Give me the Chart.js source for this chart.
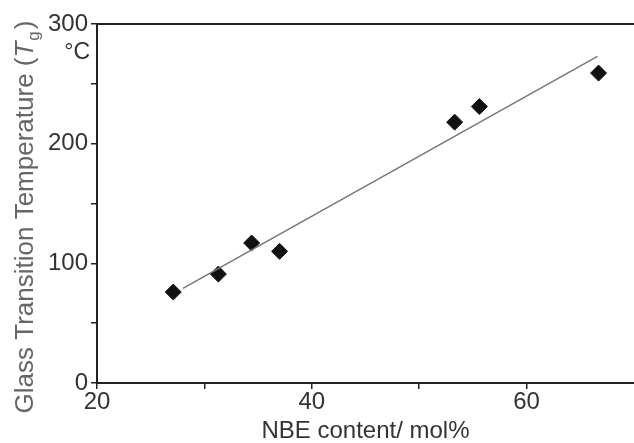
<!DOCTYPE html>
<html>
<head>
<meta charset="utf-8">
<script src="https://cdn.jsdelivr.net/npm/chart.js@4/dist/chart.umd.min.js"></script>
<style>
  html, body { margin: 0; padding: 0; background: #fff; }
  #wrap { width: 634px; height: 443px; position: relative; }
</style>
</head>
<body>
<div id="wrap"><canvas id="myChart"></canvas></div>
<script>
// NBE content (mol%) vs Tg (°C)
const nbeContent = [27.1, 31.3, 34.4, 37.0, 53.3, 55.6, 66.7]
const tgValues = [76, 91, 117, 110, 218, 231, 259]

// ends of the fitted straight line
const fitX = [28.0, 66.6]
const fitY = [79, 273]

const xTickLabels = [20, 40, 60]
const yTickLabels = [0, 100, 200, 300]

const points = nbeContent.map((x, i) => ({ x: x, y: tgValues[i] }))
const fitLine = fitX.map((x, i) => ({ x: x, y: fitY[i] }))

const fontFam = "'Liberation Sans', Arial, sans-serif"

// y title has italic T and subscript g, so draw it by hand
const yTitle = {
  id: "yTitle",
  afterDraw(chart) {
    const ctx = chart.ctx
    const parts = [
      { t: "Glass Transition Temperature (", f: "26px " + fontFam, dy: 0, gap: 0 },
      { t: "T", f: "italic 26px " + fontFam, dy: 0, gap: 1 },
      { t: "g", f: "17px " + fontFam, dy: 6, gap: 2 },
      { t: ")", f: "26px " + fontFam, dy: 0, gap: 0 },
    ]
    ctx.save()
    let total = 0
    parts.forEach(p => { ctx.font = p.f; total += ctx.measureText(p.t).width + p.gap })
    ctx.translate(33, 217)
    ctx.rotate(-Math.PI / 2)
    ctx.fillStyle = "#666"
    ctx.textBaseline = "alphabetic"
    let x = -total / 2
    parts.forEach(p => {
      ctx.font = p.f
      ctx.fillText(p.t, x, p.dy)
      x += ctx.measureText(p.t).width + p.gap
    })
    ctx.restore()

    // unit label under the 300 tick
    ctx.save()
    ctx.font = "23px " + fontFam
    ctx.fillStyle = "#333"
    ctx.textAlign = "right"
    ctx.textBaseline = "middle"
    ctx.fillText("°C", 90, 53)
    ctx.restore()
  }
}

const chart1 = document.getElementById("myChart")

var myChart = new Chart(chart1, {
  type: "scatter",
  data: {
    datasets: [
      {
        label: "fit",
        type: "line",
        data: fitLine,
        borderColor: "#777",
        borderWidth: 1.5,
        pointRadius: 0,
        fill: false,
      },
      {
        label: "Tg",
        data: points,
        pointStyle: "rectRot",
        pointRadius: 8,
        pointHoverRadius: 8,
        backgroundColor: "#111",
        borderColor: "#111",
        borderWidth: 1,
      },
    ],
  },
  options: {
    responsive: true,
    maintainAspectRatio: false,
    animation: false,
    layout: { autoPadding: false, padding: { top: 24, right: 0, left: 0, bottom: 0 } },
    scales: {
      x: {
        type: "linear",
        position: "bottom",
        min: 20,
        max: 70,
        afterFit: (s) => { s.height = 60; s.paddingRight = 0; s.paddingLeft = 0 },
        ticks: {
          stepSize: 10,
          maxRotation: 0,
          autoSkip: false,
          padding: 1,
          color: "#333",
          font: { family: fontFam, size: 24, lineHeight: 1 },
          callback: (v) => xTickLabels.includes(v) ? v : "",
        },
        grid: {
          drawOnChartArea: false,
          tickLength: 6,
          color: "#222",
          // no tick mark on the right edge
          tickColor: (c) => c.tick && c.tick.value === 70 ? "rgba(0,0,0,0)" : "#222",
          lineWidth: 1.5,
        },
        border: { display: true, color: "#222", width: 2 },
        title: {
          display: true,
          text: "NBE content/ mol%",
          color: "#333",
          font: { family: fontFam, size: 24 },
          padding: { top: 0, bottom: -3 },
        },
      },
      xTop: {
        type: "linear",
        position: "top",
        min: 20,
        max: 70,
        afterFit: (s) => { s.height = 0; s.paddingRight = 0; s.paddingLeft = 0 },
        ticks: { display: false },
        grid: { display: false, drawTicks: false },
        border: { display: true, color: "#222", width: 2 },
      },
      y: {
        min: 0,
        max: 300,
        afterFit: (s) => { s.width = 97 },
        ticks: {
          stepSize: 50,
          padding: 3,
          color: "#333",
          font: { family: fontFam, size: 24 },
          callback: (v) => yTickLabels.includes(v) ? v : "",
        },
        grid: { drawOnChartArea: false, tickLength: 6, color: "#222", lineWidth: 1.5 },
        border: { display: true, color: "#222", width: 2 },
      },
    },
    plugins: {
      legend: { display: false },
      tooltip: { enabled: false },
    },
  },
  plugins: [yTitle],
});
</script>
</body>
</html>
